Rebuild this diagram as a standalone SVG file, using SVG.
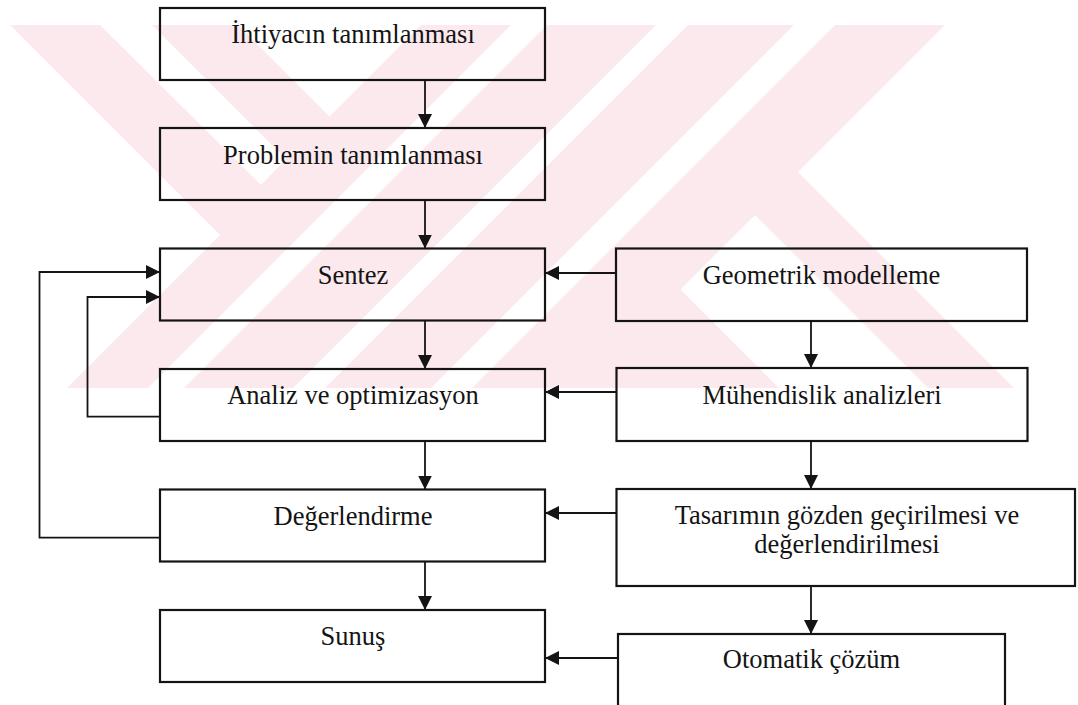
<svg xmlns="http://www.w3.org/2000/svg" width="1078" height="705" viewBox="0 0 1078 705">
  <style>
    .box { fill: none; stroke: #141414; stroke-width: 2.2; }
    .lbl { font-family: "Liberation Serif", "Times New Roman", serif; font-size: 26.5px; fill: #141414; text-anchor: middle; }
    .wire { fill: none; stroke: #141414; stroke-width: 1.8; }
    .wm { fill: #fce9ed; }
    .wmw { fill: #ffffff; }
  </style>
  <defs>
    <marker id="ah" markerUnits="userSpaceOnUse" markerWidth="14" markerHeight="14" viewBox="0 0 14 14" refX="14" refY="7" orient="auto">
      <path d="M0,0 L14,7 L0,14 z" fill="#141414"/>
    </marker>
    <clipPath id="band"><rect x="0" y="25" width="1078" height="363"/></clipPath>
  </defs>
  <rect width="1078" height="705" fill="#ffffff"/>
  <g id="watermark" clip-path="url(#band)">
    <polygon class="wm" points="10,25 945,25 798,172 1014,388 928,388 755,215 680.5,289.5 779,388 67,388 220,235"/>
    <polygon class="wmw" points="238,25 421,25 329.5,116.5"/>
    <polygon class="wmw" points="100,25 152,25 286,159 261,185"/>
    <polygon class="wmw" points="511,25 547,25 184,388 148,388"/>
    <polygon class="wmw" points="656,25 688,25 325,388 293,388"/>
    <polygon class="wmw" points="794,25 835,25 472,388 431,388"/>
  </g>
  <g id="connectors">
    <line class="wire" x1="425" y1="80" x2="425" y2="128" marker-end="url(#ah)"/>
    <line class="wire" x1="425" y1="200" x2="425" y2="248.5" marker-end="url(#ah)"/>
    <line class="wire" x1="425" y1="320.5" x2="425" y2="369" marker-end="url(#ah)"/>
    <line class="wire" x1="425" y1="441" x2="425" y2="489.5" marker-end="url(#ah)"/>
    <line class="wire" x1="425" y1="561.5" x2="425" y2="610" marker-end="url(#ah)"/>
    <line class="wire" x1="811" y1="321" x2="811" y2="368" marker-end="url(#ah)"/>
    <line class="wire" x1="811" y1="441" x2="811" y2="489" marker-end="url(#ah)"/>
    <line class="wire" x1="811" y1="586" x2="811" y2="634" marker-end="url(#ah)"/>
    <line class="wire" x1="616" y1="273" x2="545" y2="273" marker-end="url(#ah)"/>
    <line class="wire" x1="616.5" y1="392" x2="545" y2="392" marker-end="url(#ah)"/>
    <line class="wire" x1="616.5" y1="513" x2="545" y2="513" marker-end="url(#ah)"/>
    <line class="wire" x1="618" y1="658" x2="545" y2="658" marker-end="url(#ah)"/>
    <polyline class="wire" points="160,537.7 39.5,537.7 39.5,272 160,272" marker-end="url(#ah)"/>
    <polyline class="wire" points="160,416.7 87.5,416.7 87.5,297 160,297" marker-end="url(#ah)"/>
  </g>
  <g id="n1"><rect class="box" x="160" y="8" width="385" height="72"/><text class="lbl" x="353" y="43.3">İhtiyacın tanımlanması</text></g>
  <g id="n2"><rect class="box" x="160" y="128" width="385" height="72"/><text class="lbl" x="353" y="164">Problemin tanımlanması</text></g>
  <g id="n3"><rect class="box" x="160" y="248.5" width="385" height="72"/><text class="lbl" x="353" y="284">Sentez</text></g>
  <g id="n4"><rect class="box" x="160" y="369" width="385" height="72"/><text class="lbl" x="353" y="404">Analiz ve optimizasyon</text></g>
  <g id="n5"><rect class="box" x="160" y="489.5" width="385" height="72"/><text class="lbl" x="353" y="525">Değerlendirme</text></g>
  <g id="n6"><rect class="box" x="160" y="610" width="385" height="72"/><text class="lbl" x="353" y="645">Sunuş</text></g>
  <g id="n7"><rect class="box" x="616" y="248.5" width="411" height="72.5"/><text class="lbl" x="821.5" y="284">Geometrik modelleme</text></g>
  <g id="n8"><rect class="box" x="616.5" y="368" width="411" height="73"/><text class="lbl" x="822" y="404">Mühendislik analizleri</text></g>
  <g id="n9"><rect class="box" x="616.5" y="489" width="458.5" height="97"/><text class="lbl" x="847" y="524.3">Tasarımın gözden geçirilmesi ve</text><text class="lbl" x="847" y="553.3">değerlendirilmesi</text></g>
  <g id="n10"><rect class="box" x="618" y="634" width="387" height="73"/><text class="lbl" x="811.5" y="668.3">Otomatik çözüm</text></g>
</svg>
